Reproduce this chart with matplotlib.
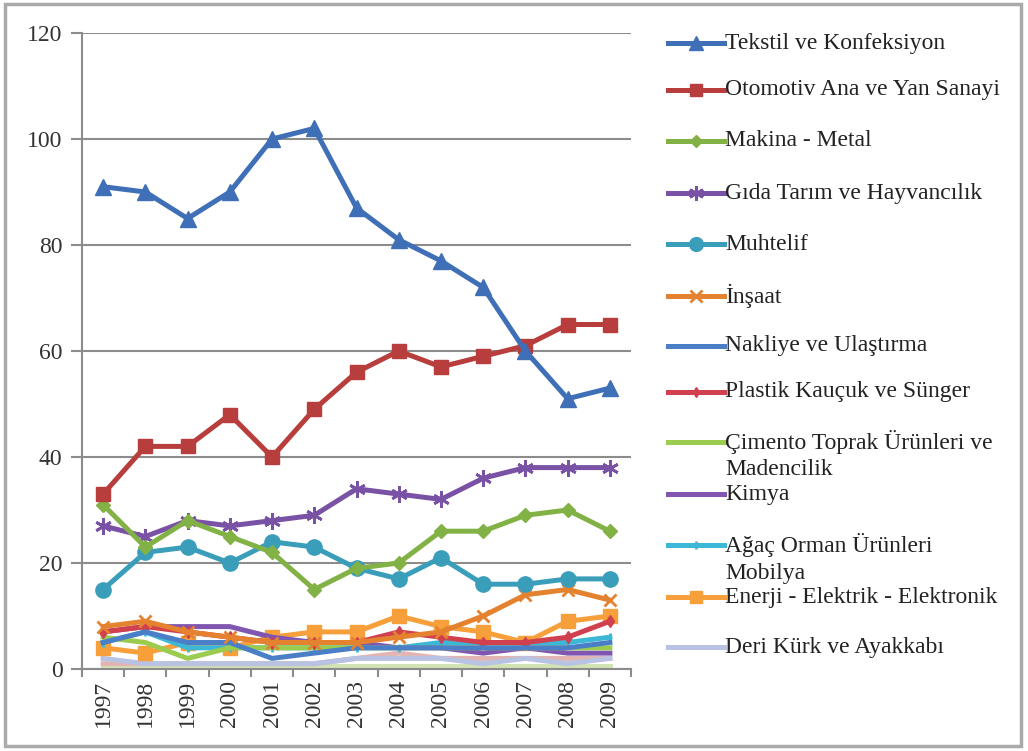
import matplotlib
matplotlib.use("Agg")
import matplotlib.pyplot as plt
from matplotlib.lines import Line2D
from matplotlib.patches import Rectangle
import numpy as np

years = ["1997", "1998", "1999", "2000", "2001", "2002", "2003",
         "2004", "2005", "2006", "2007", "2008", "2009"]

tekstil = [91, 90, 85, 90, 100, 102, 87, 81, 77, 72, 60, 51, 53]
otomotiv = [33, 42, 42, 48, 40, 49, 56, 60, 57, 59, 61, 65, 65]
makina = [31, 23, 28, 25, 22, 15, 19, 20, 26, 26, 29, 30, 26]
gida = [27, 25, 28, 27, 28, 29, 34, 33, 32, 36, 38, 38, 38]
muhtelif = [15, 22, 23, 20, 24, 23, 19, 17, 21, 16, 16, 17, 17]
insaat = [8, 9, 7, 6, 5, 5, 5, 6, 7, 10, 14, 15, 13]
nakliye = [5, 7, 5, 5, 2, 3, 4, 4, 4, 4, 4, 4, 5]
plastik = [7, 8, 7, 6, 5, 5, 5, 7, 6, 5, 5, 6, 9]
cimento = [6, 5, 2, 4, 4, 4, 4, 4, 4, 4, 4, 4, 4]
kimya = [7, 8, 8, 8, 6, 5, 5, 4, 4, 3, 4, 3, 3]
agac = [5, 7, 4, 4, 4, 4, 4, 4, 5, 5, 5, 5, 6]
enerji = [4, 3, 5, 4, 6, 7, 7, 10, 8, 7, 5, 9, 10]
deri = [2, 1, 1, 1, 1, 1, 2, 2, 2, 1, 2, 1, 2]
extra_pink = [1, 1, 1, 1, 1, 1, 2, 3, 2, 2, 2, 2, 2]
extra_green = [0.5, 0.5, 0.5, 0.5, 0.5, 0.5, 0.5, 0.5, 0.5, 0.5, 0.5, 0.5, 0.5]

labels = ["Tekstil ve Konfeksiyon", "Otomotiv Ana ve Yan Sanayi", "Makina - Metal",
          "Gıda Tarım ve Hayvancılık", "Muhtelif", "İnşaat", "Nakliye ve Ulaştırma",
          "Plastik Kauçuk ve Sünger", "Çimento Toprak Ürünleri ve\nMadencilik", "Kimya",
          "Ağaç Orman Ürünleri\nMobilya", "Enerji - Elektrik - Elektronik",
          "Deri Kürk ve Ayakkabı"]

series = [tekstil, otomotiv, makina, gida, muhtelif, insaat, nakliye, plastik,
          cimento, kimya, agac, enerji, deri]

styles = [
    dict(color="#3F6FB6", marker="^", ms=11),
    dict(color="#B83D3D", marker="s", ms=10),
    dict(color="#82B245", marker="D", ms=7),
    dict(color="#7A52A5", marker=(6, 2, 0), ms=12, mew=2),
    dict(color="#3A9EBB", marker="o", ms=11),
    dict(color="#E5822F", marker="x", ms=9, mew=2),
    dict(color="#4A7FC7", marker=None, ms=0),
    dict(color="#D0404E", marker="d", ms=6),
    dict(color="#9BCB4F", marker=None, ms=0),
    dict(color="#8056B0", marker=None, ms=0),
    dict(color="#3CB8D6", marker="|", ms=6, mew=2),
    dict(color="#F7A03B", marker="s", ms=10),
    dict(color="#B8C3E3", marker=None, ms=0),
]

plt.rcParams['font.family'] = ['Liberation Serif', 'DejaVu Serif']

W, H = 1028, 751
LW = 3.6
fig = plt.figure(figsize=(W / 100, H / 100), dpi=100)
ax = fig.add_axes([82 / W, 1 - 669 / H, (631 - 82) / W, (669 - 33) / H])

x = np.arange(len(years))
ax.plot(x, extra_green, color="#D3E3B3", lw=LW, zorder=1)
ax.plot(x, extra_pink, color="#E3B5B2", lw=LW, zorder=1)
for i in range(len(series) - 1, -1, -1):
    s = styles[i]
    ax.plot(x, series[i], color=s["color"], lw=LW, marker=s["marker"],
            ms=s["ms"], mew=s.get("mew", 1), mfc=s["color"], mec=s["color"],
            zorder=2 + (len(series) - i) * 0.01)

ax.set_xlim(-0.5, 12.5)
ax.set_ylim(0, 120)
ax.set_yticks(np.arange(0, 121, 20))
ax.grid(axis="y", color="#8C8C8C", lw=1.5, zorder=0)
ax.set_axisbelow(True)
ax.set_xticks(x)
ax.set_xticklabels(years, rotation=90)
ax.set_xticks(np.arange(-0.5, 12.6, 1), minor=True)
ax.tick_params(axis="x", which="major", length=0, pad=8, labelsize=17, labelcolor="#333333")
ax.tick_params(axis="x", which="minor", length=6, width=1.5, color="#8C8C8C", direction="out")
ax.tick_params(axis="y", length=8, width=1.5, color="#8C8C8C", labelsize=17,
               labelcolor="#333333", pad=6)
for sp in ["top", "right"]:
    ax.spines[sp].set_visible(False)
for sp in ["left", "bottom"]:
    ax.spines[sp].set_color("#8C8C8C")
    ax.spines[sp].set_linewidth(1.5)

# legend (manual, figure pixel coordinates)
leg_y = [43, 90, 141, 193, 244, 296, 346, 392, 442, 494, 545, 597, 647]
for i, lab in enumerate(labels):
    s = styles[i]
    yf = 1 - leg_y[i] / H
    fig.add_artist(Line2D([668 / W, 724 / W], [yf, yf], color=s["color"], lw=LW,
                          transform=fig.transFigure))
    if s["marker"] is not None:
        fig.add_artist(Line2D([696 / W], [yf], color=s["color"], marker=s["marker"],
                              ms=s["ms"] * 0.9, mew=s.get("mew", 1), mfc=s["color"],
                              mec=s["color"], transform=fig.transFigure))
    lines = lab.split("\n")
    for j, t in enumerate(lines):
        fig.text(725 / W, 1 - (leg_y[i] + 28 * j) / H, t, fontsize=17, color="#222222",
                 va="center", ha="left")

fig.add_artist(Rectangle((5 / W, 5 / H), 1016 / W, 742 / H, fill=False,
                         edgecolor="#AAAAAA", lw=2.5, transform=fig.transFigure))

fig.savefig("out.png", dpi=100)
